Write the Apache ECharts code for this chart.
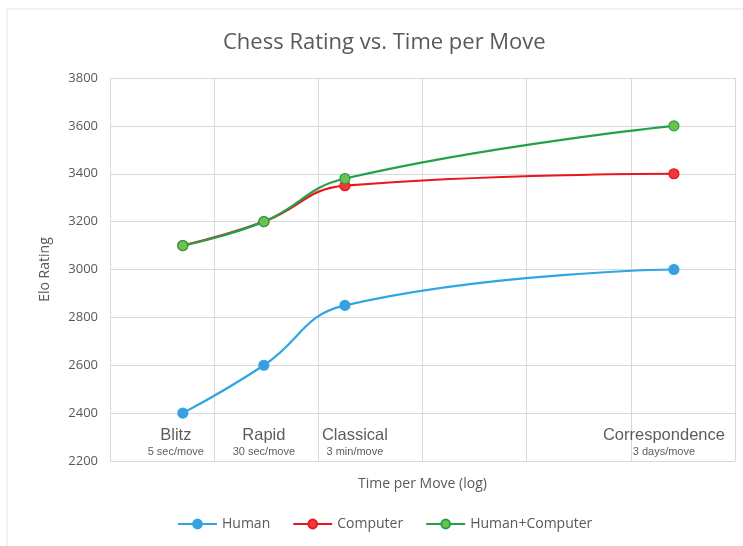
<!DOCTYPE html>
<html>
<head>
<meta charset="utf-8">
<script src="https://cdn.jsdelivr.net/npm/echarts@6/dist/echarts.min.js"></script>
<style>html,body{margin:0;padding:0;background:#fff;}#c{width:743px;height:546px;}</style>
</head>
<body>
<div id="c"></div>
<script>
// Time per move in seconds (log axis)
const timeSeconds = [5, 30, 180, 259200];
const categories = ['Blitz', 'Rapid', 'Classical', 'Correspondence'];
const subLabels = ['5 sec/move', '30 sec/move', '3 min/move', '3 days/move'];
const human = [2400, 2600, 2850, 3000];
const computer = [3100, 3200, 3350, 3400];
const humanComputer = [3100, 3200, 3380, 3600];
const yTicks = [2200, 2400, 2600, 2800, 3000, 3200, 3400, 3600, 3800];

// layout nudges for the category captions (pixels)
const captionShift = [-7, 0, 10, -10];

const pair = arr => timeSeconds.map((t, i) => [t, arr[i]]);
const font = '"Open Sans", sans-serif';
const chart = echarts.init(document.getElementById('c'), null, {renderer: 'canvas'});

function lineSeries(name, data, lineColor, fill) {
  return {
    name, type: 'line', data: pair(data), smooth: 0.45,
    symbol: 'circle', symbolSize: 10,
    lineStyle: {color: lineColor, width: 2.2},
    itemStyle: {color: fill, borderColor: lineColor, borderWidth: 1.2},
    z: 3
  };
}

chart.setOption({
  animation: false,
  backgroundColor: '#fff',
  title: {
    text: 'Chess Rating vs. Time per Move', left: 218, top: 27,
    textStyle: {fontFamily: font, fontSize: 22, fontWeight: 'normal', color: '#595959'}
  },
  graphic: [{
    type: 'rect', shape: {x: 7, y: 9, width: 745, height: 560},
    style: {fill: 'none', stroke: '#e6e6e6', lineWidth: 1}, silent: true
  }],
  legend: {
    data: ['Human', 'Computer', 'Human+Computer'],
    bottom: 10, left: 172, itemWidth: 39, itemHeight: 11, itemGap: 22,
    textStyle: {fontFamily: font, fontSize: 14, color: '#595959'}
  },
  grid: {left: 110, right: 8, top: 78, bottom: 85},
  xAxis: {
    type: 'log', logBase: 10, min: 1, max: 1000000, interval: 1,
    name: 'Time per Move (log)', nameLocation: 'middle', nameGap: 16,
    nameTextStyle: {fontFamily: font, fontSize: 14, color: '#595959'},
    axisLine: {show: true, lineStyle: {color: '#d9d9d9'}},
    axisTick: {show: false}, axisLabel: {show: false},
    splitLine: {show: true, lineStyle: {color: '#d9d9d9'}}
  },
  yAxis: {
    type: 'value', min: yTicks[0], max: yTicks[yTicks.length - 1], interval: 200,
    name: 'Elo Rating', nameLocation: 'middle', nameGap: 58, nameRotate: 90,
    nameTextStyle: {fontFamily: font, fontSize: 14, color: '#595959'},
    axisLine: {show: false}, axisTick: {show: false},
    axisLabel: {fontFamily: font, fontSize: 13, color: '#595959', margin: 12, formatter: v => String(v)},
    splitLine: {show: true, lineStyle: {color: '#d9d9d9'}}
  },
  series: [
    lineSeries('Human', human, '#2ea6e4', '#3a9ee0'),
    lineSeries('Computer', computer, '#e8171d', '#f0393c'),
    lineSeries('Human+Computer', humanComputer, '#22a149', '#6dc24f'),
    {
      name: 'captions', type: 'scatter', symbolSize: 0, silent: true, z: 2,
      data: timeSeconds.map((t, i) => ({
        value: [t, yTicks[0]],
        label: {offset: [captionShift[i], 0]}
      })),
      label: {
        show: true, position: 'top', distance: 2,
        formatter: p => '{a|' + categories[p.dataIndex] + '}\n{b|' + subLabels[p.dataIndex] + '}',
        rich: {
          a: {fontFamily: '"Liberation Sans", Arial, sans-serif', fontSize: 16.5, color: '#333333', lineHeight: 19, align: 'center'},
          b: {fontFamily: '"Liberation Sans", Arial, sans-serif', fontSize: 11, color: '#333333', lineHeight: 14, align: 'center'}
        }
      }
    }
  ]
});
</script>
</body>
</html>
